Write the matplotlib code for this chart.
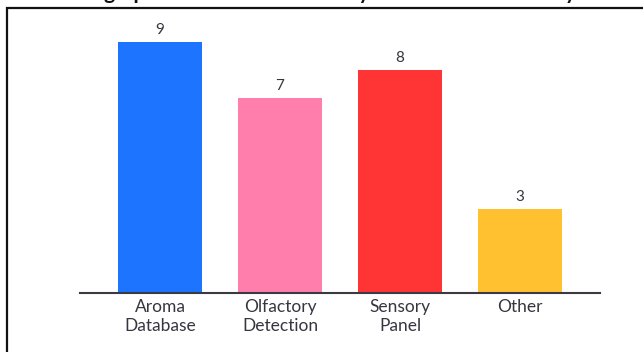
import matplotlib

matplotlib.use("Agg")
import matplotlib.pyplot as plt
from matplotlib.patches import Rectangle

# data
categories = ["Aroma\nDatabase", "Olfactory\nDetection", "Sensory\nPanel", "Other"]
counts = [9, 7, 8, 3]
bar_colors = ["#1c74ff", "#ff7eab", "#ff3434", "#ffc12f"]
title = "Bar graph: Methods the Industry Uses Most to Identify"

plt.rcParams["font.family"] = ["Lato", "DejaVu Sans"]
TEXT = "#363640"

fig = plt.figure(figsize=(6.43, 3.52), dpi=100)
W, H = 643, 352

# outer frame, runs off the right and bottom edges of the crop
fig.add_artist(Rectangle((7 / W, -0.1), 1.2, (H - 8.5) / H + 0.1,
                         transform=fig.transFigure, fill=False,
                         edgecolor="#111111", lw=1.6, clip_on=False))
# title sits mostly above the crop; only descenders show
fig.text(0.5, 1.0 + 1 / H, title, ha="center", va="baseline",
         fontsize=15, fontweight="bold", color="#111111")

ax = fig.add_axes([80 / W, 59 / H, 520 / W, 279 / H])
x = range(len(categories))
bars = ax.bar(x, counts, width=0.7, color=bar_colors)
for b, v in zip(bars, counts):
    ax.annotate(str(v), (b.get_x() + b.get_width() / 2, v),
                textcoords="offset points", xytext=(0, 3.5),
                ha="center", va="bottom", fontsize=11, color=TEXT)

ax.set_xlim(-2 / 3, 3 + 2 / 3)
ax.set_ylim(0, 10)
ax.set_xticks(list(x))
ax.set_xticklabels(categories, fontsize=12.5, color=TEXT, linespacing=1.3)
ax.tick_params(axis="x", length=0, pad=4)
ax.set_yticks([])
for side in ("top", "right", "left"):
    ax.spines[side].set_visible(False)
ax.spines["bottom"].set_color("#3a3a44")
ax.spines["bottom"].set_linewidth(1.5)
ax.patch.set_alpha(0)

fig.savefig("out.png", dpi=100)
